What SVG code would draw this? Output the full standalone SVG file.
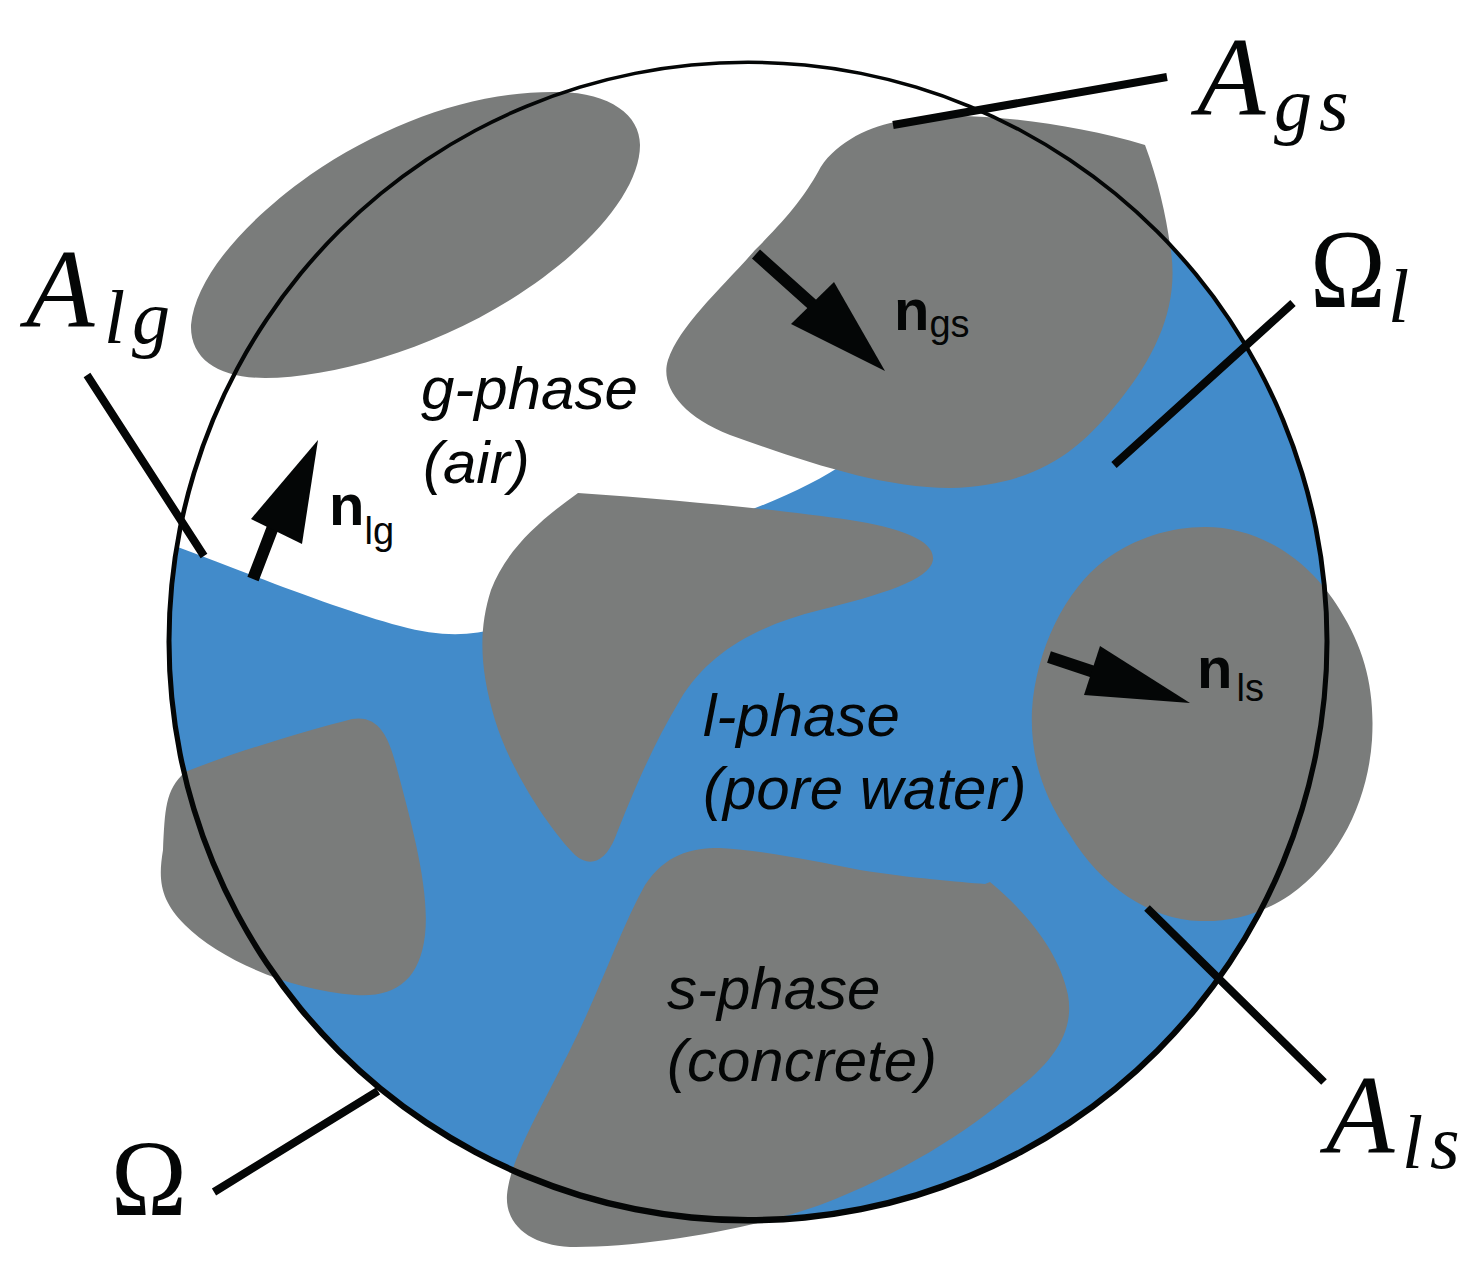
<svg xmlns="http://www.w3.org/2000/svg" width="1476" height="1266" viewBox="0 0 1476 1266">
<style>
.s{fill:#7a7c7b}
.l{stroke:#040606;stroke-width:8;fill:none}
.t{font-family:"Liberation Sans",Arial,sans-serif;font-style:italic;font-size:60px;fill:#040606}
.b{font-family:"Liberation Sans",Arial,sans-serif;font-weight:bold;font-size:58px;fill:#040606}
.sub{font-family:"Liberation Sans",Arial,sans-serif;font-weight:normal;font-size:38px;fill:#040606}
.m{font-family:"Liberation Serif",serif;font-style:italic;font-size:112px;fill:#040606}
.ms{font-family:"Liberation Serif",serif;font-style:italic;font-size:76px;letter-spacing:7px;fill:#040606}
.o{font-family:"Liberation Serif",serif;font-size:102px;fill:#040606}
</style>
<defs><clipPath id="c"><circle cx="748" cy="641" r="579"/></clipPath></defs>
<rect width="1476" height="1266" fill="#fff"/>
<path id="water" clip-path="url(#c)" fill="#428bca" d="M150 537L175 546C260 578 340 610 400 626C440 637 470 636 500 628L600 560L750 510C790 495 820 480 850 460L1000 300L1170 235L1400 300V1266H100V537Z"/>
<g id="grain-top-left"><path class="s" d="M191 325C195 280 240 225 310 175C390 120 480 90 560 92C610 93 640 115 640 145C640 190 590 250 510 300C430 350 330 378 265 378C220 378 190 360 191 325Z"/></g>
<g id="grain-top-right"><path class="s" d="M895 122C950 108 1060 120 1145 145C1158 180 1166 215 1170 245C1180 300 1160 350 1120 400C1080 450 1040 485 950 488C880 488 800 460 730 435C680 415 660 385 668 360C680 325 720 290 755 250C790 215 805 195 818 172C832 145 865 128 895 122Z"/></g>
<g id="grain-centre"><path class="s" d="M578 493C680 500 780 510 850 520C900 528 935 540 933 560C930 580 880 595 820 610C760 625 710 650 680 700C650 750 630 800 615 838C605 862 590 868 575 855C550 830 510 770 495 720C480 670 478 630 491 590C506 550 540 520 578 493Z"/></g>
<g id="grain-left"><path class="s" d="M185 772C240 750 310 730 352 719C378 715 388 735 396 765C412 825 430 890 425 935C420 980 395 998 355 995C290 990 220 960 185 925C160 900 158 880 163 850C165 810 165 790 185 772Z"/></g>
<g id="grain-right"><path class="s" d="M1205 527C1260 527 1310 560 1340 610C1365 650 1375 690 1372 740C1368 800 1340 860 1290 895C1260 915 1230 922 1200 921C1150 920 1100 885 1070 835C1042 795 1030 755 1032 710C1036 650 1065 590 1105 560C1135 538 1170 527 1205 527Z"/></g>
<g id="grain-bottom"><path class="s" d="M720 848C760 850 810 860 860 870C910 878 960 882 985 884L990 882C1030 915 1060 955 1068 995C1075 1035 1050 1065 1010 1095C970 1130 900 1175 820 1205C750 1230 640 1248 570 1247C530 1245 505 1225 507 1195C510 1160 540 1110 570 1050C600 990 620 930 645 885C665 855 690 848 720 848Z"/></g>
<g id="connectors">
<path fill="#040606" fill-rule="evenodd" d="M166.500 642A581.500 581.500 0 1 1 1329.500 642A581.500 581.500 0 1 1 166.500 642ZM171.500 640.500A576.500 576.500 0 1 0 1324.500 640.500A576.500 576.500 0 1 0 171.500 640.500Z"/>
<path class="l" d="M893 125L1167 77M87 375L204 556M1293 303L1114 465M1147 908L1324 1082M378 1091L214 1192"/>
<path stroke="#040606" stroke-width="12" d="M253 579L276 519M756 254L814 306M1049 657L1100 674"/>
<polygon fill="#040606" points="318,440 251,519 302,544"/>
<polygon fill="#040606" points="885,371 791,324 834,282"/>
<polygon fill="#040606" points="1190,703 1084,695 1100,646"/>
</g>
<g id="labels">
<text class="t" x="421" y="409">g-phase</text>
<text class="t" x="423" y="483">(air)</text>
<text class="t" x="703" y="736">l-phase</text>
<text class="t" x="703" y="809">(pore water)</text>
<text class="t" x="667" y="1009">s-phase</text>
<text class="t" x="667" y="1081">(concrete)</text>
<text class="b" x="894" y="330">n<tspan class="sub" dy="7">gs</tspan></text>
<text class="b" x="329" y="525">n<tspan class="sub" dy="19">lg</tspan></text>
<text class="b" x="1197" y="688">n<tspan class="sub" dx="4" dy="13">ls</tspan></text>
<text class="m" x="1197" y="115">A</text><text class="ms" x="1274" y="130">gs</text>
<text class="m" x="26" y="327">A</text><text class="ms" x="104" y="343">lg</text>
<text class="m" x="1326" y="1153">A</text><text class="ms" x="1402" y="1168">ls</text>
<text class="o" transform="translate(1310 307) scale(1 1.1)" x="0" y="0">Ω</text><text class="ms" x="1388" y="322">l</text>
<text class="o" transform="translate(111 1215) scale(1 1.05)" x="0" y="0">Ω</text>
</g>
</svg>
